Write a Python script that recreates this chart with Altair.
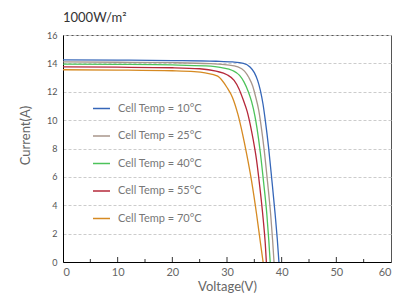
import altair as alt
import pandas as pd

series_labels = ["Cell Temp = 10°C", "Cell Temp = 25°C", "Cell Temp = 40°C",
                 "Cell Temp = 55°C", "Cell Temp = 70°C"]
series_colors = ["#3566b8", "#a8968b", "#4cc35a", "#b5283a", "#d68a22"]

v10 = [0, 10, 20, 28, 31, 33, 34.2, 35, 35.6, 36.1, 36.6, 37.0, 37.6, 38.2, 38.8, 39.2, 39.5]
i10 = [14.25, 14.23, 14.2, 14.15, 14.1, 14.0, 13.75, 13.35, 12.8, 12.1, 11.1, 10.0, 8.1, 5.8, 3.4, 1.6, 0]

v25 = [0, 10, 20, 27, 30, 32, 33.2, 34.0, 34.7, 35.2, 35.8, 36.2, 36.8, 37.4, 38.0, 38.35, 38.6]
i25 = [14.1, 14.08, 14.05, 13.98, 13.9, 13.75, 13.45, 13.0, 12.4, 11.7, 10.7, 9.7, 7.9, 5.7, 3.3, 1.5, 0]

v40 = [0, 10, 20, 26, 29, 31, 32.3, 33.1, 33.9, 34.5, 35.1, 35.5, 36.1, 36.7, 37.3, 37.65, 37.9]
i40 = [13.95, 13.93, 13.89, 13.82, 13.7, 13.5, 13.15, 12.7, 12.0, 11.3, 10.3, 9.4, 7.7, 5.6, 3.3, 1.5, 0]

v55 = [0, 10, 20, 25, 28, 30, 31.3, 32.2, 33.0, 33.7, 34.3, 34.8, 35.4, 36.0, 36.6, 37.0, 37.2]
i55 = [13.75, 13.73, 13.69, 13.62, 13.45, 13.2, 12.8, 12.2, 11.4, 10.6, 9.6, 8.6, 7.2, 5.3, 3.1, 1.3, 0]

v70 = [0, 10, 20, 24, 26, 28.3, 30, 31, 32, 32.8, 33.6, 34.5, 35.4, 36.1, 36.6]
i70 = [13.55, 13.53, 13.48, 13.42, 13.33, 13.1, 12.3, 11.6, 10.4, 9.1, 7.6, 5.7, 3.4, 1.4, 0]

x_labels = [0, 10, 20, 30, 40, 50, 60]
y_labels = [0, 2, 4, 6, 8, 10, 12, 14, 16]
major_ticks = [10, 20, 30, 40, 50]
minor_ticks = [5, 15, 25, 35, 45, 55]

rows = []
for lab, vs, cs in zip(series_labels, [v10, v25, v40, v55, v70], [i10, i25, i40, i55, i70]):
    for v, c in zip(vs, cs):
        rows.append({"series": lab, "V": v, "I": c})
df = pd.DataFrame(rows)

FONT = "Lato"
W, H = 328, 227
x_scale = alt.Scale(domain=[0, 60], nice=False)
y_scale = alt.Scale(domain=[0, 16], nice=False)

lines = alt.Chart(df).mark_line(strokeWidth=1.3, interpolate="monotone", clip=True).encode(
    x=alt.X("V:Q", scale=x_scale,
            axis=alt.Axis(values=x_labels, title="Voltage(V)", grid=False, ticks=False,
                          domainColor="#000000", domainWidth=1,
                          labelColor="#666666", labelFontSize=11, labelPadding=4,
                          titleColor="#666666", titleFontSize=13, titleFontWeight="normal",
                          titleY=24, titleBaseline="middle")),
    y=alt.Y("I:Q", scale=y_scale,
            axis=alt.Axis(values=y_labels, title="Current(A)", grid=True, gridDash=[3, 2],
                          gridColor="#cccccc", ticks=False,
                          domainColor="#000000", domainWidth=1,
                          labelColor="#555555", labelFontSize=9, labelPadding=6,
                          titleColor="#666666", titleFontSize=13, titleFontWeight="normal",
                          titleX=-38, titleY=100, titleBaseline="middle", titleAlign="center")),
    color=alt.Color("series:N", scale=alt.Scale(domain=series_labels, range=series_colors),
                    legend=alt.Legend(title=None, orient="none", legendX=29, legendY=64,
                                      symbolType="stroke", symbolSize=289, symbolStrokeWidth=1.5,
                                      labelFontSize=11, labelColor="#777777", labelOffset=7,
                                      rowPadding=12.5, padding=0)),
)

major = alt.Chart(pd.DataFrame({"V": major_ticks})).mark_rule(color="#333333", strokeWidth=1).encode(
    x=alt.X("V:Q", scale=x_scale), y=alt.value(H), y2=alt.value(H - 5))
minor = alt.Chart(pd.DataFrame({"V": minor_ticks})).mark_rule(color="#333333", strokeWidth=1).encode(
    x=alt.X("V:Q", scale=x_scale), y=alt.value(H), y2=alt.value(H - 3))

chart = alt.layer(lines, major, minor).properties(
    width=W, height=H,
    title=alt.TitleParams("1000W/m²", anchor="start", fontSize=13, fontWeight="normal",
                          color="#333333", offset=6, frame="group", font=FONT),
    autosize=alt.AutoSizeParams(type="none"),
    padding={"left": 55, "top": 27, "right": 7, "bottom": 31},
).configure(font=FONT).configure_view(stroke="#555555", strokeWidth=1)

chart.save("out.html", embed_options={"renderer": "svg", "actions": False})
